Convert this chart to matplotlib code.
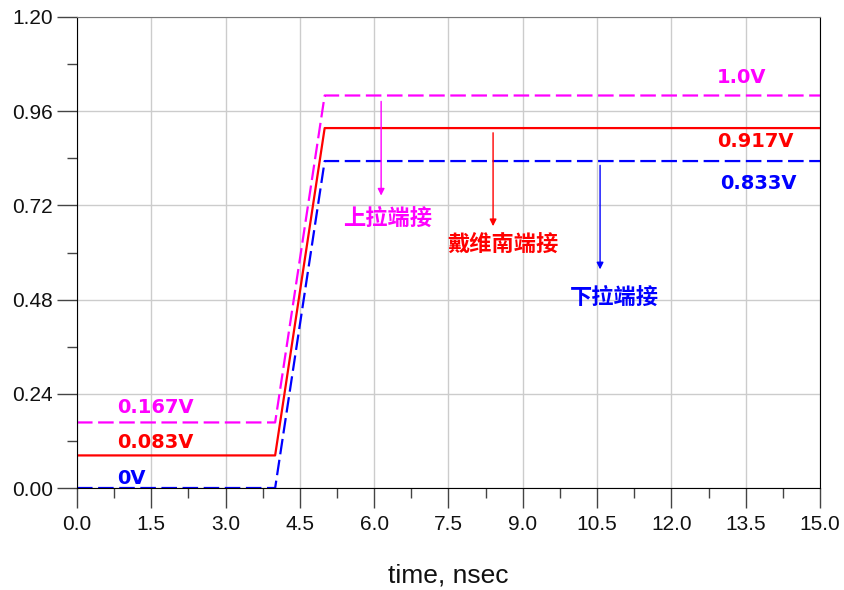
import matplotlib
matplotlib.use("Agg")
import matplotlib.pyplot as plt
from matplotlib.ticker import MultipleLocator

t = [0.0, 4.0, 5.0, 15.0]
v_pullup = [0.167, 0.167, 1.0, 1.0]
v_thevenin = [0.083, 0.083, 0.917, 0.917]
v_pulldown = [0.0, 0.0, 0.833, 0.833]

xticks = [0.0, 1.5, 3.0, 4.5, 6.0, 7.5, 9.0, 10.5, 12.0, 13.5, 15.0]
yticks = [0.00, 0.24, 0.48, 0.72, 0.96, 1.20]

level_labels = [
    ("1.0V", 12.92, 1.045, "#ff00ff"),
    ("0.917V", 12.92, 0.882, "#ff0000"),
    ("0.833V", 12.98, 0.777, "#0000ff"),
    ("0.167V", 0.8, 0.204, "#ff00ff"),
    ("0.083V", 0.8, 0.115, "#ff0000"),
    ("0V", 0.8, 0.025, "#0000ff"),
]

arrows = [
    ("上拉端接", 6.14, 0.985, 0.745, 5.38, 0.686, "#ff00ff"),
    ("戴维南端接", 8.40, 0.905, 0.667, 7.47, 0.620, "#ff0000"),
    ("下拉端接", 10.56, 0.822, 0.557, 9.95, 0.487, "#0000ff"),
]

fig = plt.figure(figsize=(8.44, 5.9), dpi=100)
ax = fig.add_axes([77/844, 1-488/590, (820-77)/844, (488-17)/590])

ax.plot(t, v_pullup, color="#ff00ff", lw=1.6, dashes=(7, 2.5))
ax.plot(t, v_thevenin, color="#ff0000", lw=1.6)
ax.plot(t, v_pulldown, color="#0000ff", lw=1.6, dashes=(7, 2.5))

ax.set_xlim(0, 15)
ax.set_ylim(0, 1.2)
ax.set_xticks(xticks)
ax.set_xticklabels([f"{x:.1f}" for x in xticks])
ax.set_yticks(yticks)
ax.set_yticklabels([f"{y:.2f}" for y in yticks])
ax.xaxis.set_minor_locator(MultipleLocator(0.75))
ax.yaxis.set_minor_locator(MultipleLocator(0.12))
ax.tick_params(axis="both", which="major", direction="out", length=14.5, width=1,
               labelsize=15, colors="#444444", labelcolor="#111111", pad=3)
ax.tick_params(axis="x", which="major", pad=5)
ax.tick_params(axis="both", which="minor", direction="out", length=7.2, width=1, colors="#444444")
for lab in ax.get_xticklabels() + ax.get_yticklabels():
    lab.set_family("Liberation Sans")
ax.grid(True, which="major", color="#cccccc", lw=1)
ax.set_axisbelow(True)
ax.spines["top"].set_color("#777777")
for s in ["left", "bottom", "right"]:
    ax.spines[s].set_color("black")
ax.set_xlabel("time, nsec", fontsize=19, labelpad=21, family="Liberation Sans", color="#111111")

for txt, x, y, c in level_labels:
    ax.text(x, y, txt, color=c, fontsize=14, fontweight="bold", va="center", ha="left",
            family=["DejaVu Sans"])

for txt, x, y0, y1, tx, ty, c in arrows:
    ax.annotate("", xy=(x, y1), xytext=(x, y0),
                arrowprops=dict(arrowstyle="-|>", color=c, lw=1, mutation_scale=10,
                                shrinkA=0, shrinkB=0))
    ax.text(tx, ty, txt, color=c, fontsize=16, fontweight="bold", va="center", ha="left",
            family=["Noto Sans CJK SC", "DejaVu Sans"])

fig.savefig("out.png", dpi=100)
